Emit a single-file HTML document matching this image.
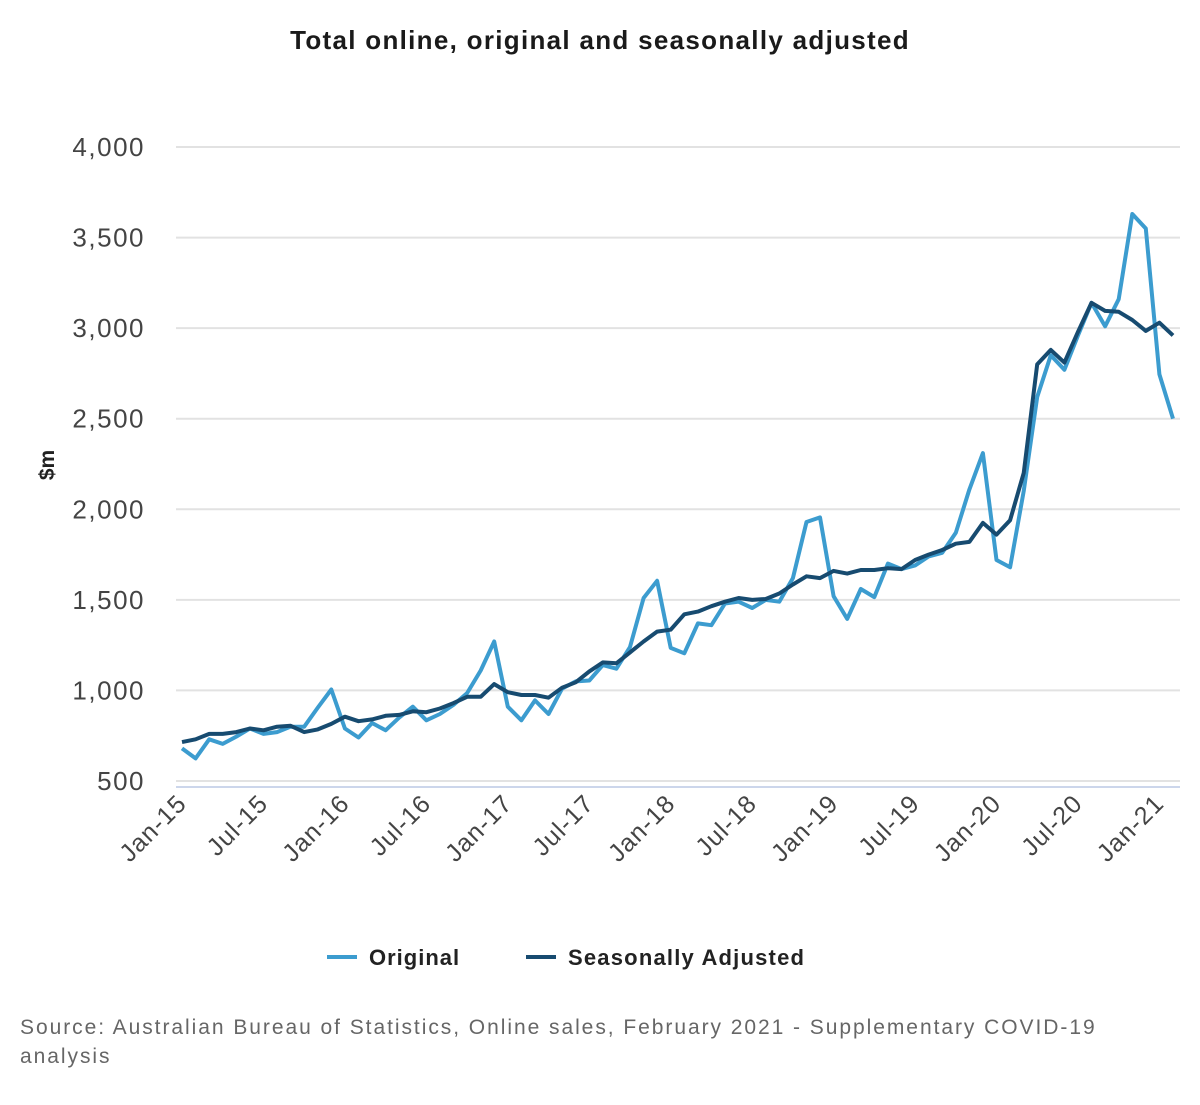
<!DOCTYPE html>
<html><head><meta charset="utf-8"><style>
body{margin:0;background:#fff;font-family:"Liberation Sans",sans-serif;}
#wrap{position:relative;width:1200px;height:1100px;}
</style></head><body>
<div id="wrap">
<svg id="chart" width="1200" height="1100"></svg>
</div>
<script>
const months=["Jan-15","Jul-15","Jan-16","Jul-16","Jan-17","Jul-17","Jan-18","Jul-18","Jan-19","Jul-19","Jan-20","Jul-20","Jan-21"];
const yTicks=[500,1000,1500,2000,2500,3000,3500,4000];
const original=[680,625,730,705,745,790,760,770,800,800,905,1005,790,740,820,780,850,910,835,870,920,985,1110,1270,910,835,945,870,1010,1050,1055,1140,1120,1240,1510,1605,1235,1205,1370,1360,1480,1490,1455,1500,1490,1620,1930,1955,1520,1395,1560,1515,1700,1670,1690,1740,1760,1870,2110,2310,1720,1680,2100,2620,2850,2770,2960,3140,3010,3160,3630,3550,2745,2500];
const adjusted=[715,730,760,760,770,790,780,800,805,770,785,815,855,830,840,860,865,885,880,900,930,965,965,1035,990,975,975,960,1015,1045,1105,1155,1150,1210,1270,1325,1335,1420,1435,1465,1490,1510,1500,1505,1535,1585,1630,1620,1660,1645,1665,1665,1675,1670,1720,1750,1775,1810,1820,1925,1860,1940,2200,2800,2880,2810,2980,3140,3095,3090,3045,2985,3030,2960];
const NS="http://www.w3.org/2000/svg";
const svg=document.getElementById('chart');
const x=i=>182+i*(1173-182)/73;
const y=v=>781-(v-500)*(634/3500);
function mk(t,a,txt){const e=document.createElementNS(NS,t);for(const k in a)e.setAttribute(k,a[k]);if(txt!==undefined)e.textContent=txt;svg.appendChild(e);return e;}
let e=mk('text',{x:600,y:49,'text-anchor':'middle','font-size':26,'font-weight':'bold',fill:'#1a1a1a','letter-spacing':1.3},'Total online, original and seasonally adjusted');


yTicks.forEach(v=>{
 let g=mk('line',{x1:176,x2:1180,y1:y(v),y2:y(v),stroke:'#e2e2e2','stroke-width':2});
 
 
 let t=mk('text',{x:145,y:y(v)+9,'text-anchor':'end','font-size':26,fill:'#444','letter-spacing':1.5},v.toLocaleString('en-US'));
 
 
});
e=mk('line',{x1:176,x2:1180,y1:787,y2:787,stroke:'#ccd6eb','stroke-width':2});


e=mk('text',{transform:'translate(54,465) rotate(-90)','text-anchor':'middle','font-size':21,'font-weight':'bold',fill:'#222'},'$m');


months.forEach((m,k)=>{
 const xx=x(k*6);
 let t=mk('text',{transform:`translate(${xx+6},${805}) rotate(-45)`,'text-anchor':'end','font-size':25,fill:'#444','letter-spacing':1},m);
 
 
});
function line(data,color,name){
 const d=data.map((v,i)=>(i?'L':'M')+x(i).toFixed(1)+','+y(v).toFixed(1)).join('');
 let p=mk('path',{d:d,fill:'none',stroke:color,'stroke-width':4,'stroke-linejoin':'round'});
 
 
}
line(original,'#3c9ccf','original-series-line');
line(adjusted,'#174b70','seasonally-adjusted-series-line');
e=mk('line',{x1:327,x2:357,y1:957,y2:957,stroke:'#3c9ccf','stroke-width':4});


e=mk('text',{x:369,y:965,'font-size':22,'font-weight':'bold',fill:'#222','letter-spacing':1},'Original');


e=mk('line',{x1:526,x2:556,y1:957,y2:957,stroke:'#174b70','stroke-width':4});


e=mk('text',{x:568,y:965,'font-size':22,'font-weight':'bold',fill:'#222','letter-spacing':1.2},'Seasonally Adjusted');


e=mk('text',{x:20,y:1034,'font-size':21,fill:'#666','letter-spacing':1.95},'Source: Australian Bureau of Statistics, Online sales, February 2021 - Supplementary COVID-19');


e=mk('text',{x:20,y:1063,'font-size':21,fill:'#666','letter-spacing':1.95},'analysis');


</script>
</body></html>
